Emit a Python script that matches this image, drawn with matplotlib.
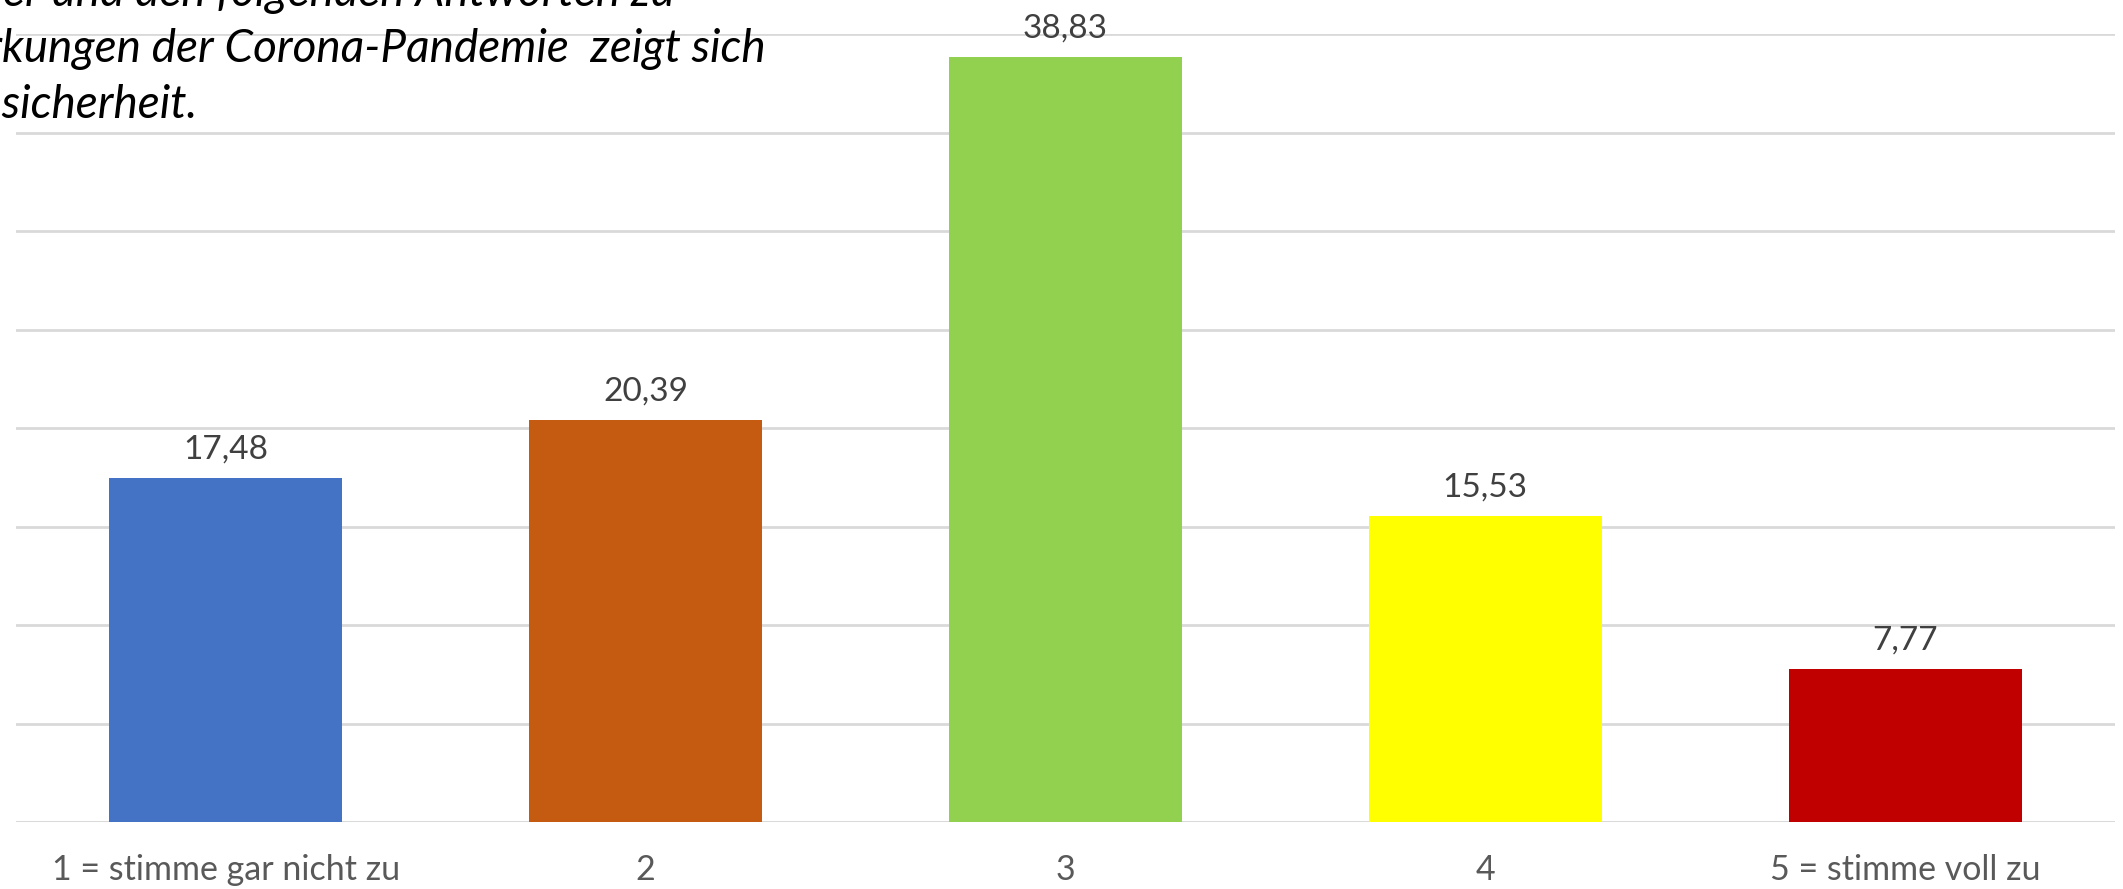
import matplotlib
matplotlib.use("Agg")
import matplotlib.pyplot as plt

# data
categories = ["1 = stimme gar nicht zu", "2", "3", "4", "5 = stimme voll zu"]
values = [17.48, 20.39, 38.83, 15.53, 7.77]
bar_colors = ["#4472C4", "#C55A11", "#92D050", "#FFFF00", "#C00000"]
value_labels = ["17,48", "20,39", "38,83", "15,53", "7,77"]

# cropped title (only the right part of each line is visible)
title_lines = [
    "oder und den folgenden Antworten zu",
    "Auswirkungen der Corona-Pandemie  zeigt sich",
    "Unsicherheit.",
]
title_right = [675, 766, 198]      # px where each line ends
title_base = [6, 62, 118]          # px from top, baseline

W, H = 2123, 889
plt.rcParams['font.family'] = ['Lato', 'DejaVu Sans']

fig = plt.figure(figsize=(W / 100, H / 100), dpi=100)
ax = fig.add_axes([16 / W, 1 - 822 / H, (2115 - 16) / W, (822 - 34) / H])

x = list(range(len(categories)))
ax.bar(x, values, width=0.555, color=bar_colors, zorder=3)
ax.set_xlim(-0.5, len(categories) - 0.5)
ax.set_ylim(0, 40)
ax.set_yticks(range(0, 41, 5))
ax.yaxis.grid(True, color="#D9D9D9", linewidth=2, zorder=0)
ax.set_axisbelow(True)
ax.tick_params(axis="both", length=0, labelleft=False)
for s in ax.spines.values():
    s.set_visible(False)
ax.axhline(0, color="#D9D9D9", linewidth=2, zorder=2)

# category labels, baseline ~59 px below the axis line
ax.set_xticks(x)
ax.set_xticklabels(categories, fontsize=24.5, color="#595959", va="baseline")
ax.tick_params(axis="x", pad=42)

for xi, v, lab in zip(x, values, value_labels):
    ax.annotate(lab, (xi, v), xytext=(0, 14), textcoords="offset points",
                ha="center", va="baseline", fontsize=24, color="#404040")

for line, xr, yb in zip(title_lines, title_right, title_base):
    fig.text(xr / W, 1 - yb / H, line, ha="right", va="baseline",
             fontsize=33, style="italic", color="black")

fig.savefig("out.png", dpi=100)
